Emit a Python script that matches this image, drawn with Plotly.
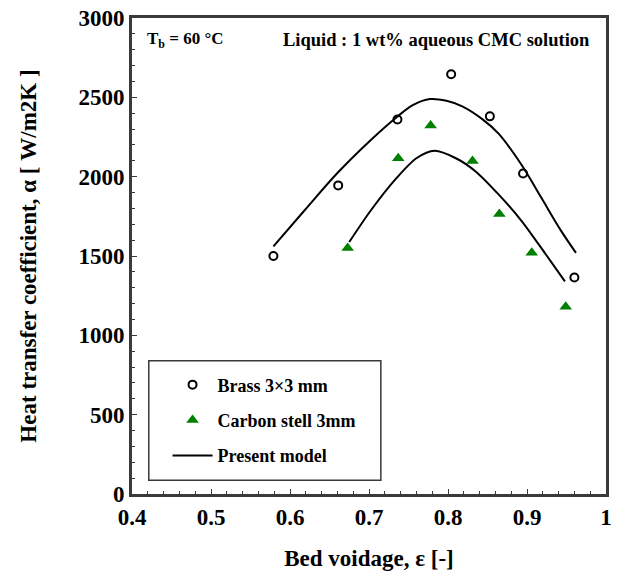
import plotly.graph_objects as go

# Measured heat transfer coefficients
brass_voidage = [0.579, 0.661, 0.736, 0.804, 0.853, 0.895, 0.960]
brass_alpha = [1500, 1945, 2360, 2645, 2380, 2020, 1365]

steel_voidage = [0.673, 0.737, 0.778, 0.831, 0.865, 0.906, 0.949]
steel_alpha = [1550, 2116, 2323, 2099, 1764, 1520, 1180]

# Model predictions
model_brass_voidage = [0.579, 0.618, 0.660, 0.702, 0.735, 0.756, 0.777, 0.798, 0.818, 0.843, 0.864, 0.893, 0.918, 0.943, 0.962]
model_brass_alpha = [1561, 1785, 2023, 2230, 2375, 2452, 2489, 2478, 2443, 2364, 2271, 2075, 1868, 1660, 1520]

model_steel_voidage = [0.675, 0.702, 0.735, 0.760, 0.783, 0.810, 0.835, 0.864, 0.893, 0.923, 0.948]
model_steel_alpha = [1588, 1785, 1992, 2116, 2163, 2116, 2033, 1888, 1722, 1516, 1340]

x_ticks = [0.4, 0.5, 0.6, 0.7, 0.8, 0.9, 1.0]
x_tick_labels = ["0.4", "0.5", "0.6", "0.7", "0.8", "0.9", "1"]
y_ticks = [0, 500, 1000, 1500, 2000, 2500, 3000]

FONT = "Liberation Serif"
FRAME = "#3a3a3a"

fig = go.Figure()

fig.add_trace(go.Scatter(
    x=brass_voidage, y=brass_alpha, mode="markers", name="Brass 3×3 mm",
    legendgroup="a",
    marker=dict(symbol="circle-open", size=8, color="black", line=dict(width=2, color="black")),
))
fig.add_trace(go.Scatter(
    x=steel_voidage, y=steel_alpha, mode="markers", name="Carbon stell 3mm",
    legendgroup="b",
    marker=dict(symbol="triangle-up", size=11, color="#008000"),
))
fig.add_trace(go.Scatter(
    x=model_brass_voidage, y=model_brass_alpha, mode="lines", name="Present model",
    legendgroup="c",
    line=dict(color="black", width=2, shape="spline", smoothing=1.0),
))
fig.add_trace(go.Scatter(
    x=model_steel_voidage, y=model_steel_alpha, mode="lines", name="Present model",
    legendgroup="c", showlegend=False,
    line=dict(color="black", width=2, shape="spline", smoothing=0.8),
))

axis_common = dict(
    showline=True, mirror=True, linewidth=3, linecolor=FRAME,
    ticks="inside", ticklen=5, tickwidth=1, tickcolor=FRAME,
    showgrid=False, zeroline=False, ticklabeloverflow="allow",
    tickfont=dict(family=FONT, size=23, color="black", weight="bold"),
)

fig.update_xaxes(
    range=[0.4, 1.0], tickvals=x_ticks, ticktext=x_tick_labels,
    minor=dict(dtick=0.02, ticks="inside", ticklen=3, tickcolor=FRAME),
    title=dict(text="Bed voidage, ε [-]", font=dict(family=FONT, size=23, color="black", weight="bold"), standoff=22),
    **axis_common,
)
fig.update_yaxes(
    range=[0, 3000], tickvals=y_ticks,
    minor=dict(dtick=100, ticks="inside", ticklen=3, tickcolor=FRAME),
    title=dict(text="Heat transfer coefficient, α [ W/m2K ]", font=dict(family=FONT, size=23, color="black", weight="bold"), standoff=36),
    **axis_common,
)

# Legend frame
fig.add_shape(type="rect", xref="paper", yref="paper",
              x0=0.0354, x1=0.525, y0=0.029, y1=0.280,
              line=dict(color=FRAME, width=1.5), layer="below")

fig.add_annotation(xref="paper", yref="paper", x=0.027, y=0.953, xanchor="left", yanchor="middle",
                   text="T<sub>b</sub> = 60 °C", showarrow=False,
                   font=dict(family=FONT, size=17, color="black", weight="bold"))
fig.add_annotation(xref="paper", yref="paper", x=0.97, y=0.953, xanchor="right", yanchor="middle",
                   text="Liquid : 1 wt% aqueous CMC solution", showarrow=False,
                   font=dict(family=FONT, size=18.5, color="black", weight="bold"))

fig.update_layout(
    width=618, height=579,
    margin=dict(l=132, r=6, t=11, b=85),
    paper_bgcolor="white", plot_bgcolor="white",
    font=dict(family=FONT, color="black"),
    legend=dict(
        x=0.075, y=0.268, xanchor="left", yanchor="top",
        bgcolor="rgba(0,0,0,0)", borderwidth=0,
        tracegroupgap=9, itemwidth=40,
        font=dict(family=FONT, size=18, color="black", weight="bold"),
    ),
)

fig.write_html("out.html")
